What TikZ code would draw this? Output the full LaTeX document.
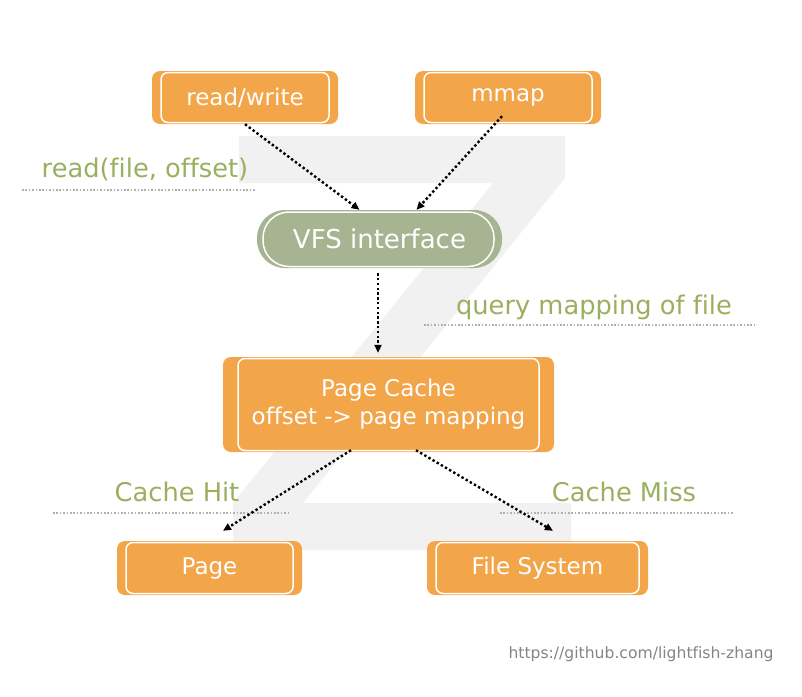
\documentclass[tikz,border=0pt]{standalone}
\usepackage{fontspec}
\setmainfont[Ligatures={NoCommon}]{DejaVu Sans}
\usepackage{xcolor}
\usepackage{tikz}
\usetikzlibrary{arrows.meta}

\definecolor{boxorange}{HTML}{F2A549}
\definecolor{vfsgreen}{HTML}{A6B491}
\definecolor{notegreen}{HTML}{9CAF60}
\definecolor{zgray}{HTML}{F1F1F1}
\definecolor{linegray}{HTML}{B0B0B0}
\definecolor{urlgray}{HTML}{858585}

\tikzset{
  box/.style={fill=boxorange, rounded corners=8pt, text=white, inner sep=0pt,
    font=\fontsize{23}{28}\selectfont,
    path picture={\draw[white, line width=1.5pt, rounded corners=7pt]
      ([shift={(#1pt,1.5pt)}]path picture bounding box.south west) rectangle
      ([shift={(-#1pt,-1.5pt)}]path picture bounding box.north east);}},
  box/.default=9,
  pill/.style={fill=vfsgreen, rounded corners=28pt, text=white, inner sep=0pt,
    font=\fontsize{26}{30}\selectfont,
    path picture={\draw[white, line width=1.5pt, rounded corners=26pt]
      ([shift={(6pt,1.5pt)}]path picture bounding box.south west) rectangle
      ([shift={(-8pt,-2pt)}]path picture bounding box.north east);}},
  note/.style={text=notegreen, anchor=base, inner sep=0pt,
    font=\fontsize{25.7}{30}\selectfont},
  underline/.style={linegray, line width=1.6pt, dash pattern=on 1.6pt off 1.8pt},
  flow/.style={black, line width=2.4pt, dash pattern=on 2.4pt off 2.4pt,
    -{Triangle[length=8pt,width=7pt]}},
}

\begin{document}
\begin{tikzpicture}[x=1pt, y=-1pt]
  \path[fill=white] (0,0) rectangle (802,696);

  % watermark
  \fill[zgray] (239,136) -- (565,136) -- (565,178) -- (303,503) -- (571,503)
    -- (571,550) -- (233,550) -- (233,503) -- (493,183) -- (239,183) -- cycle;

  % side notes
  \node[note] (readnote) at (145,177) {read(file, offset)};
  \node[note] (querynote) at (594,314) {query mapping of file};
  \node[note] (hitnote) at (177,501) {Cache Hit};
  \node[note] (missnote) at (624,501) {Cache Miss};
  \draw[underline] (22,190) -- (256,190);
  \draw[underline] (424,325) -- (757,325);
  \draw[underline] (53,513) -- (288,513);
  \draw[underline] (500,513) -- (734,513);

  \node[box, minimum width=186pt, minimum height=53pt] (rw) at (245,97.5) {read/write};
  \node[box, minimum width=186pt, minimum height=53pt] (mmap) at (508,97.5) {mmap};
  \node[pill, minimum width=245pt, minimum height=58pt] (vfs) at (379.5,239) {VFS interface};
  \node[box=15, minimum width=331pt, minimum height=95pt, align=center] (pc) at (388.5,404.5) {Page Cache\\offset -> page mapping};
  \node[box, minimum width=185pt, minimum height=54pt] (page) at (209.5,568) {Page};
  \node[box, minimum width=221pt, minimum height=54pt] (fs) at (537.5,568) {File System};

  \draw[flow] (rw.south) -- ([xshift=-20pt]vfs.north);
  \draw[flow] ([shift={(-6pt,8pt)}]mmap.south) -- ([xshift=37pt]vfs.north);
  \draw[flow] ([shift={(-1.5pt,-5pt)}]vfs.south) -- ([shift={(-10.5pt,4pt)}]pc.north);
  \draw[flow] ([shift={(-37.5pt,2pt)}]pc.south) -- ([shift={(13.5pt,10pt)}]page.north);
  \draw[flow] ([shift={(27.5pt,2pt)}]pc.south) -- ([shift={(15.5pt,10pt)}]fs.north);

  \node[text=urlgray, font=\fontsize{15.6}{18}\selectfont, anchor=base, inner sep=0pt] (url) at (641,658) {https://github.com/lightfish-zhang};
\end{tikzpicture}
\end{document}
